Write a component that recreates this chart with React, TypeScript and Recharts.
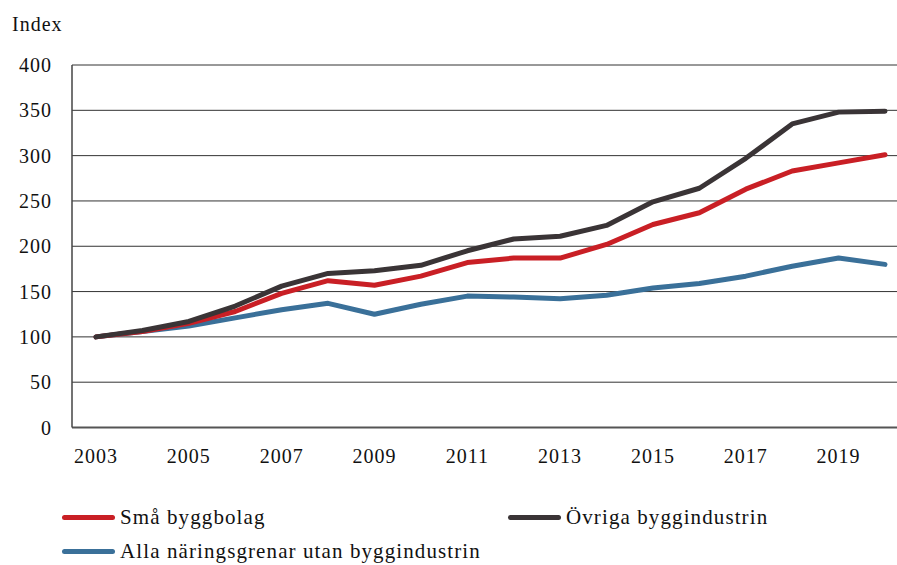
import React from "react";
import { LineChart, Line, XAxis, YAxis, CartesianGrid } from "recharts";

const years = [2003, 2004, 2005, 2006, 2007, 2008, 2009, 2010, 2011, 2012, 2013, 2014, 2015, 2016, 2017, 2018, 2019, 2020];
const smaByggbolag = [100, 106, 115, 128, 148, 162, 157, 167, 182, 187, 187, 202, 224, 237, 263, 283, 292, 301];
const ovrigaByggindustrin = [100, 107, 117, 134, 156, 170, 173, 179, 195, 208, 211, 223, 249, 264, 297, 335, 348, 349];
const allaUtanBygg = [100, 106, 112, 121, 130, 137, 125, 136, 145, 144, 142, 146, 154, 159, 167, 178, 187, 180];
const yTicks = [0, 50, 100, 150, 200, 250, 300, 350, 400];

const seriesNames = ["Små byggbolag", "Övriga byggindustrin", "Alla näringsgrenar utan byggindustrin"];
const colors = ["#c91f25", "#3a3436", "#3a7099"];

const data = years.map((y, i) => ({
  year: y,
  sma: smaByggbolag[i],
  ovriga: ovrigaByggindustrin[i],
  alla: allaUtanBygg[i],
}));

const FONT = "'Liberation Serif', serif";

const LegendItem = ({ color, label, left, top }: { color: string; label: string; left: number; top: number }) => (
  <div style={{ position: "absolute", left, top, display: "flex", alignItems: "center", height: 24 }}>
    <div style={{ width: 53, height: 5, borderRadius: 3, background: color, marginRight: 5 }} />
    <span style={{ fontFamily: FONT, fontSize: 21, letterSpacing: 1.1, color: "#111", whiteSpace: "nowrap" }}>{label}</span>
  </div>
);

const tickStyle = { fontFamily: FONT, fontSize: 20, fill: "#111", letterSpacing: 1 };

export default function App() {
  return (
    <div style={{ position: "absolute", left: 0, top: 0, width: 897, height: 565, background: "#fff", overflow: "hidden" }}>
      <div style={{ position: "absolute", left: 12, top: 13, fontFamily: FONT, fontSize: 20, letterSpacing: 1, color: "#111" }}>Index</div>
      <LineChart width={897} height={565} data={data} margin={{ top: 65, right: 0, bottom: 97.5, left: 0 }}>
        <CartesianGrid vertical={false} stroke="#333" strokeWidth={1} />
        <XAxis
          dataKey="year"
          type="category"
          interval={1}
          padding={{ left: 24, right: 12 }}
          tickLine={false}
          tickSize={6}
          tickMargin={15}
          height={40}
          axisLine={{ stroke: "#555", strokeWidth: 2 }}
          tick={tickStyle}
        />
        <YAxis
          domain={[0, 400]}
          ticks={yTicks}
          width={72}
          tickLine={false}
          tickSize={6}
          tickMargin={14}
          axisLine={{ stroke: "#444", strokeWidth: 1.5 }}
          tick={tickStyle}
          interval={0}
        />
        <Line dataKey="alla" name={seriesNames[2]} stroke={colors[2]} strokeWidth={5} dot={false} isAnimationActive={false} strokeLinecap="round" strokeLinejoin="round" />
        <Line dataKey="sma" name={seriesNames[0]} stroke={colors[0]} strokeWidth={5} dot={false} isAnimationActive={false} strokeLinecap="round" strokeLinejoin="round" />
        <Line dataKey="ovriga" name={seriesNames[1]} stroke={colors[1]} strokeWidth={5} dot={false} isAnimationActive={false} strokeLinecap="round" strokeLinejoin="round" />
      </LineChart>
      <LegendItem color={colors[0]} label={seriesNames[0]} left={62} top={505} />
      <LegendItem color={colors[1]} label={seriesNames[1]} left={508} top={505} />
      <LegendItem color={colors[2]} label={seriesNames[2]} left={62} top={539} />
    </div>
  );
}
